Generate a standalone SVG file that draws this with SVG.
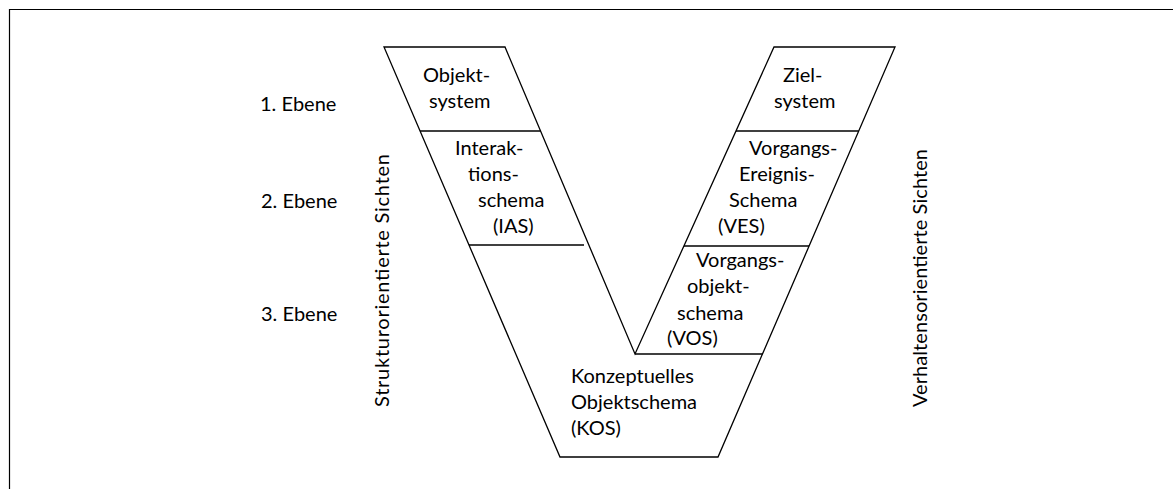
<svg xmlns="http://www.w3.org/2000/svg" width="1173" height="489" viewBox="0 0 1173 489">
<style>
.t{font-family:Lato,"Open Sans","Liberation Sans",sans-serif;font-size:20px;fill:#000}
.ln{stroke:#000;stroke-width:1.3;fill:none}
.fr{stroke:#000;stroke-width:1.2;fill:none}
</style>
<rect x="0" y="0" width="1173" height="489" fill="#fff"/>
<path class="fr" d="M9.5,489 V9.5 H1173"/>
<g id="v-outline">
<path class="ln" d="M384,47 L505,47 L635,354 L774,47 L895,47 L718,457 L560,457 Z"/>
</g>
<g id="levels">
<text class="t" x="260" y="111">1. Ebene</text>
<text class="t" x="261" y="208">2. Ebene</text>
<text class="t" x="261" y="321">3. Ebene</text>
</g>
<g id="label-struktur">
<text class="t" transform="translate(389,407) rotate(-90)" textLength="253" lengthAdjust="spacing">Strukturorientierte Sichten</text>
</g>
<g id="label-verhalten">
<text class="t" transform="translate(927,407) rotate(-90)" textLength="258" lengthAdjust="spacing">Verhaltensorientierte Sichten</text>
</g>
<g id="n-objektsystem">
<path class="ln" d="M420.1,131 H540.6"/>
<text class="t" x="423" y="82">Objekt-</text>
<text class="t" x="429" y="108">system</text>
</g>
<g id="n-ias">
<path class="ln" d="M469,245 H584"/>
<text class="t" x="455" y="155">Interak-</text>
<text class="t" x="468" y="181">tions-</text>
<text class="t" x="478" y="207">schema</text>
<text class="t" x="493" y="233">(IAS)</text>
</g>
<g id="n-kos">
<text class="t" x="571" y="383">Konzeptuelles</text>
<text class="t" x="571" y="409">Objektschema</text>
<text class="t" x="571" y="435">(KOS)</text>
</g>
<g id="n-zielsystem">
<path class="ln" d="M736,131 H858.7"/>
<text class="t" x="783" y="82">Ziel-</text>
<text class="t" x="774" y="108">system</text>
</g>
<g id="n-ves">
<path class="ln" d="M684,246 H809"/>
<text class="t" x="749" y="155">Vorgangs-</text>
<text class="t" x="739" y="181">Ereignis-</text>
<text class="t" x="729" y="207">Schema</text>
<text class="t" x="718" y="233">(VES)</text>
</g>
<g id="n-vos">
<path class="ln" d="M635,354 H762.5"/>
<text class="t" x="696" y="267">Vorgangs-</text>
<text class="t" x="687" y="293">objekt-</text>
<text class="t" x="677" y="320">schema</text>
<text class="t" x="667" y="345">(VOS)</text>
</g>
<g id="connectors"/>
</svg>
